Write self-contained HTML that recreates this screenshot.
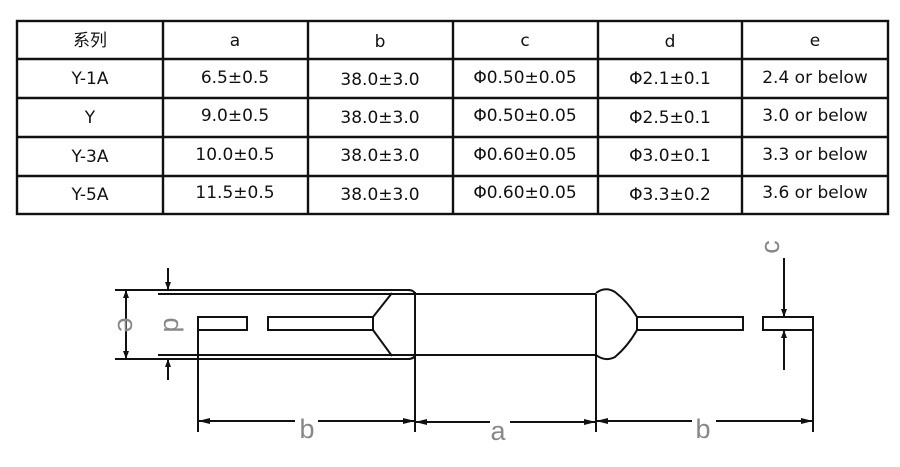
<!DOCTYPE html>
<html><head><meta charset="utf-8"><style>
html,body{margin:0;padding:0;background:#fff;width:900px;height:467px;overflow:hidden}
svg{display:block}
.t{font-family:"DejaVu Sans","Noto Sans CJK SC",sans-serif;font-size:17px;fill:#111;text-anchor:middle}
.l{font-family:"Liberation Sans",sans-serif;font-size:27px;fill:#888;text-anchor:middle}
</style></head><body>
<svg width="900" height="467" viewBox="0 0 900 467" xmlns="http://www.w3.org/2000/svg">
<g stroke="#111" stroke-width="2.4" fill="none">
<rect x="17" y="21" width="871" height="193"/>
<line x1="17" y1="59" x2="888" y2="59"/>
<line x1="17" y1="98" x2="888" y2="98"/>
<line x1="17" y1="137" x2="888" y2="137"/>
<line x1="17" y1="176" x2="888" y2="176"/>
<line x1="163" y1="21" x2="163" y2="214"/>
<line x1="308" y1="21" x2="308" y2="214"/>
<line x1="453" y1="21" x2="453" y2="214"/>
<line x1="598" y1="21" x2="598" y2="214"/>
<line x1="742" y1="21" x2="742" y2="214"/>
</g>
<g class="t">
<text x="90" y="46">系列</text><text x="235" y="46">a</text><text x="380" y="47">b</text><text x="525" y="46">c</text><text x="670" y="47">d</text><text x="815" y="46">e</text>
<text x="90" y="84">Y-1A</text><text x="235" y="83">6.5±0.5</text><text x="380" y="85">38.0±3.0</text><text x="525" y="83">Φ0.50±0.05</text><text x="670" y="84">Φ2.1±0.1</text><text x="815" y="83">2.4 or below</text>
<text x="90" y="123">Y</text><text x="235" y="121">9.0±0.5</text><text x="380" y="123">38.0±3.0</text><text x="525" y="121">Φ0.50±0.05</text><text x="670" y="123">Φ2.5±0.1</text><text x="815" y="121">3.0 or below</text>
<text x="90" y="162">Y-3A</text><text x="235" y="160">10.0±0.5</text><text x="380" y="161">38.0±3.0</text><text x="525" y="160">Φ0.60±0.05</text><text x="670" y="161">Φ3.0±0.1</text><text x="815" y="160">3.3 or below</text>
<text x="90" y="200">Y-5A</text><text x="235" y="198">11.5±0.5</text><text x="380" y="200">38.0±3.0</text><text x="525" y="198">Φ0.60±0.05</text><text x="670" y="200">Φ3.3±0.2</text><text x="815" y="198">3.6 or below</text>
</g>
<g stroke="#111" stroke-width="2" fill="none">
<line x1="115" y1="290" x2="410" y2="290"/>
<line x1="158" y1="294" x2="596" y2="294"/>
<line x1="115" y1="359" x2="410" y2="359"/>
<line x1="158" y1="355" x2="596" y2="355"/>
<path d="M408 290 Q414 290 415 294 M408 359 Q414 359 415 355"/>
<line x1="415" y1="292" x2="415" y2="432"/>
<rect x="198" y="317" width="49" height="13"/>
<rect x="268" y="317" width="105" height="13"/>
<path d="M373 317 L392 293 M373 330 L392 356"/>
<line x1="198" y1="317" x2="198" y2="432"/>
<line x1="596" y1="294" x2="596" y2="432"/>
<path d="M596 293 Q605 286 615 292 Q628 302 637 317 M596 355 Q605 362 615 357 Q628 346 637 330"/>
<rect x="637" y="317" width="106" height="13"/>
<rect x="763" y="317" width="50" height="13"/>
<line x1="813" y1="317" x2="813" y2="432"/>
<line x1="168" y1="268" x2="168" y2="290"/>
<line x1="168" y1="359" x2="168" y2="380"/>
<line x1="126" y1="290" x2="126" y2="359"/>
<line x1="784" y1="258" x2="784" y2="317"/>
<line x1="784" y1="330" x2="784" y2="370"/>
<line x1="198" y1="421" x2="295" y2="421"/><line x1="318" y1="421" x2="415" y2="421"/>
<line x1="415" y1="422" x2="490" y2="422"/><line x1="510" y1="422" x2="596" y2="422"/>
<line x1="596" y1="421" x2="692" y2="421"/><line x1="716" y1="421" x2="813" y2="421"/>
</g>
<g fill="#111">
<path d="M165 282 L171 282 L168 290Z M165 367 L171 367 L168 359Z"/>
<path d="M123 298 L129 298 L126 290Z M123 351 L129 351 L126 359Z"/>
<path d="M781 309 L787 309 L784 317Z M781 338 L787 338 L784 330Z"/>
<path d="M198 421 L210 418 L210 424Z M415 421 L403 418 L403 424Z"/>
<path d="M415 422 L427 419 L427 425Z M596 422 L584 419 L584 425Z"/>
<path d="M596 421 L608 418 L608 424Z M813 421 L801 418 L801 424Z"/>
</g>
<g class="l">
<text x="307" y="438">b</text>
<text x="498" y="440">a</text>
<text x="703" y="438">b</text>
<text transform="translate(118,325) rotate(90)" x="0" y="0">e</text>
<text transform="translate(164,325) rotate(90)" x="0" y="0">d</text>
<text transform="translate(779,247) rotate(-90)" x="0" y="0">c</text>
</g>
</svg>
</body></html>
